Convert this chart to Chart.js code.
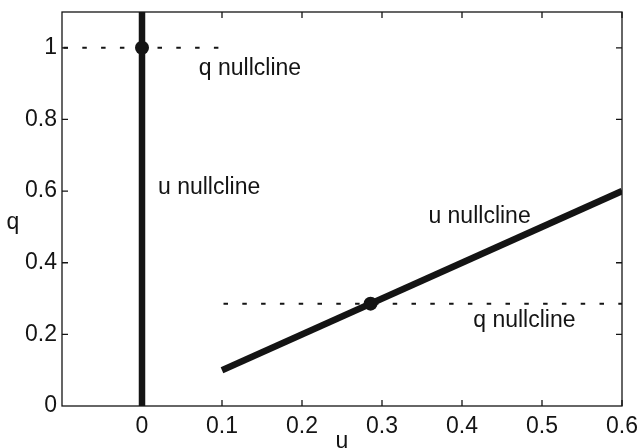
<!DOCTYPE html>
<html>
<head>
<meta charset="utf-8">
<script src="https://cdn.jsdelivr.net/npm/chart.js@4"></script>
<style>
  html, body { margin: 0; padding: 0; background: #fff; }
  #wrap { width: 644px; height: 448px; }
</style>
</head>
<body>
<div id="wrap"><canvas id="nullclineChart"></canvas></div>
<script>
// u nullclines (thick solid)
const uNullVertU = [0, 0];
const uNullVertQ = [0, 1.1];
const uNullSlopeU = [0.1, 0.6];
const uNullSlopeQ = [0.1, 0.6];

// q nullclines (dotted)
const qNullTopU = [-0.1, 0.1];
const qNullTopQ = [1, 1];
const qNullLowU = [0.1, 0.6];
const qNullLowQ = [0.2857, 0.2857];

// fixed points
const fixedU = [0, 0.2857];
const fixedQ = [1, 0.2857];

// text labels placed in data coordinates
const noteText = ['q nullcline', 'u nullcline', 'u nullcline', 'q nullcline'];
const noteU = [0.071, 0.02, 0.358, 0.414];
const noteQ = [0.941, 0.609, 0.528, 0.237];

const INK = '#141414';
const FONT = '"Liberation Sans", Arial, sans-serif';
const FS = 23;

const toPts = (xs, ys) => xs.map((x, i) => ({ x: x, y: ys[i] }));
const fmt = v => String(Number(v.toFixed(2)));

// frame, inward ticks, free text
const framePlugin = {
    id: 'frame',
    afterDatasetsDraw(chart) {
        const { ctx, chartArea: a, scales } = chart;
        ctx.save();
        ctx.strokeStyle = INK;
        ctx.lineWidth = 1.3;
        ctx.strokeRect(a.left, a.top, a.right - a.left, a.bottom - a.top);
        const len = 6;
        ctx.beginPath();
        scales.x.ticks.forEach(t => {
            if (t.value <= -0.099) return;
            const px = scales.x.getPixelForValue(t.value);
            ctx.moveTo(px, a.bottom); ctx.lineTo(px, a.bottom - len);
            ctx.moveTo(px, a.top); ctx.lineTo(px, a.top + len);
        });
        scales.y.ticks.forEach(t => {
            if (t.value <= 0 || t.value > 1.05) return;
            const py = scales.y.getPixelForValue(t.value);
            ctx.moveTo(a.left, py); ctx.lineTo(a.left + len, py);
            ctx.moveTo(a.right, py); ctx.lineTo(a.right - len, py);
        });
        ctx.stroke();

        ctx.fillStyle = INK;
        ctx.font = FS + 'px ' + FONT;
        ctx.textAlign = 'left';
        ctx.textBaseline = 'middle';
        noteText.forEach((txt, i) => {
            ctx.fillText(txt, scales.x.getPixelForValue(noteU[i]), scales.y.getPixelForValue(noteQ[i]));
        });

        // y label, upright like the original
        ctx.textAlign = 'center';
        ctx.fillText('q', 13, (a.top + a.bottom) / 2 + 14);
        ctx.restore();
    }
};

const solid = { borderColor: INK, borderWidth: 6.5, pointRadius: 0, showLine: true, borderCapStyle: 'butt' };
const dotted = { borderColor: INK, borderWidth: 2, pointRadius: 0, showLine: true, borderDash: [4.5, 14.3], borderDashOffset: -1.5 };

new Chart(document.getElementById('nullclineChart').getContext('2d'), {
    type: 'scatter',
    data: {
        datasets: [
            { ...dotted, data: toPts(qNullTopU, qNullTopQ) },
            { ...dotted, data: toPts(qNullLowU, qNullLowQ) },
            { ...solid, data: toPts(uNullVertU, uNullVertQ) },
            { ...solid, data: toPts(uNullSlopeU, uNullSlopeQ) },
            {
                data: toPts(fixedU, fixedQ),
                showLine: false,
                pointRadius: 7,
                pointBackgroundColor: INK,
                pointBorderColor: INK,
                pointBorderWidth: 0
            }
        ]
    },
    options: {
        responsive: true,
        maintainAspectRatio: false,
        animation: false,
        layout: { padding: { top: 12, right: 22, left: 0, bottom: 0 } },
        plugins: { legend: { display: false }, tooltip: { enabled: false } },
        scales: {
            x: {
                type: 'linear',
                min: -0.1,
                max: 0.6,
                afterFit: s => { s.height = 42; s.paddingLeft = 0; s.paddingRight = 0; },
                grid: { display: false, drawTicks: false },
                border: { display: false },
                ticks: {
                    stepSize: 0.1,
                    padding: 7,
                    color: INK,
                    font: { family: FONT, size: FS },
                    maxRotation: 0,
                    autoSkip: false,
                    callback: v => (v < -0.05 ? '' : fmt(v))
                },
                title: {
                    display: true,
                    text: 'u',
                    color: INK,
                    font: { family: FONT, size: FS, lineHeight: 1 },
                    padding: { top: 0, bottom: -5 }
                }
            },
            y: {
                type: 'linear',
                min: 0,
                max: 1.1,
                afterFit: s => { s.width = 62; s.paddingTop = 0; s.paddingBottom = 0; },
                grid: { display: false, drawTicks: false },
                border: { display: false },
                ticks: {
                    stepSize: 0.2,
                    padding: 5,
                    color: INK,
                    font: { family: FONT, size: FS },
                    autoSkip: false,
                    callback: v => (v > 1.05 ? '' : fmt(v))
                }
            }
        }
    },
    plugins: [framePlugin]
});
</script>
</body>
</html>
